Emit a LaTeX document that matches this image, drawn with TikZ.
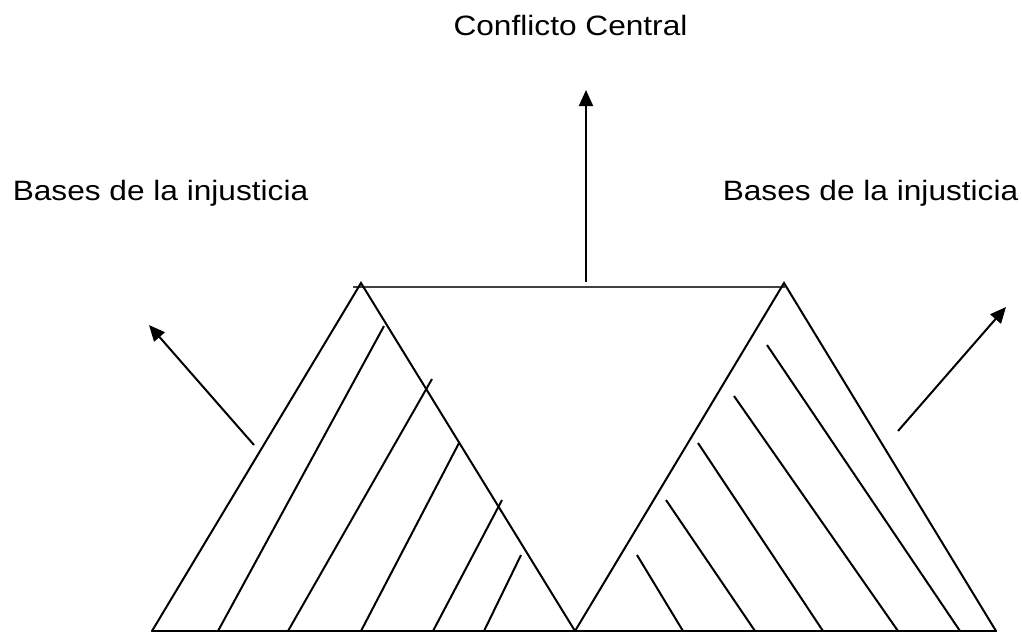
\documentclass[tikz,border=0pt]{standalone}
\usepackage{fontspec}
\setmainfont{Liberation Sans}
\usetikzlibrary{arrows.meta}
\begin{document}
\begin{tikzpicture}[x=1pt,y=-1pt,
  edge/.style={line width=2pt, line cap=round},
  hatch/.style={line width=2pt},
  topline/.style={line width=2.8pt, draw=black!75},
  arr/.style={line width=2pt, -{Triangle[length=16pt,width=14pt]}},
  lbl/.style={font=\fontsize{28}{33}\selectfont, inner sep=0pt, anchor=base, xscale=1.13}]
\useasboundingbox (0,0) rectangle (1022,633);
% vertices
\coordinate (LA) at (361,283);
\coordinate (LL) at (152,631);
\coordinate (M)  at (575,631);
\coordinate (RA) at (784,283);
\coordinate (RR) at (996,631);
\coordinate (T1) at (353,287);
\coordinate (T2) at (785,287);
% labels
\node[lbl] (cc) at (570.5,35) {Conflicto Central};
\node[lbl] (bl) at (160.5,200) {Bases de la injusticia};
\node[lbl] (br) at (870.5,200) {Bases de la injusticia};
% top line
\draw[topline] (T1) -- (T2);
% triangles
\draw[edge] (LL) -- (LA) -- (M);
\draw[edge] (M) -- (RA) -- (RR);
\draw[edge] (LL) -- (RR);
% left hatches
\draw[hatch] (218,631) -- (384,326);
\draw[hatch] (288,631) -- (432,379);
\draw[hatch] (361,631) -- (459,443);
\draw[hatch] (433,631) -- (502,500);
\draw[hatch] (484,631) -- (521,555);
% right hatches
\draw[hatch] (767,345) -- (960,631);
\draw[hatch] (734,396) -- (898,631);
\draw[hatch] (698,443) -- (823,631);
\draw[hatch] (666,500) -- (755,631);
\draw[hatch] (637,555) -- (683,631);
% arrows
\coordinate (c0) at (586,282);
\coordinate (c1) at (586,90);
\draw[arr] (c0) -- (c1);
\coordinate (l0) at (254,445);
\coordinate (l1) at (149,325);
\draw[arr] (l0) -- (l1);
\coordinate (r0) at (898,431);
\coordinate (r1) at (1006,307);
\draw[arr] (r0) -- (r1);
\end{tikzpicture}
\end{document}
